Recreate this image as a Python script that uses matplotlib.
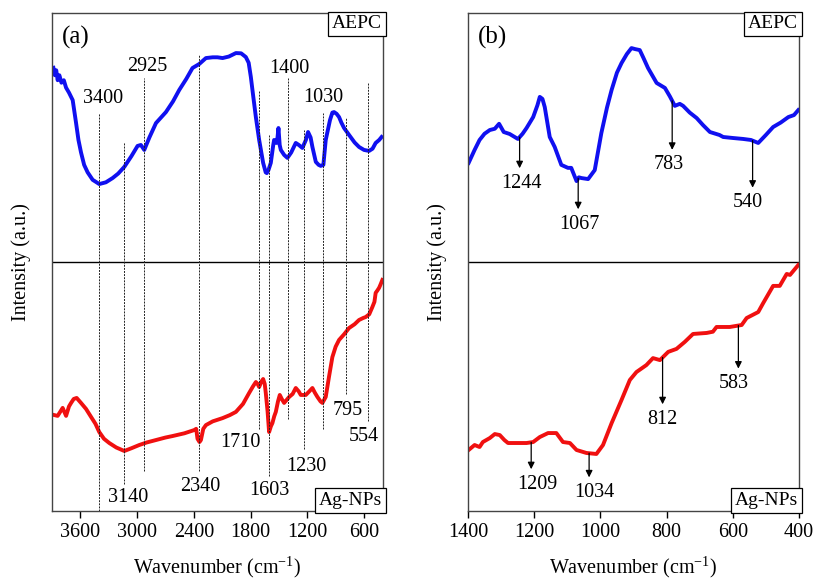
import numpy as np
import matplotlib.pyplot as plt

plt.rcParams['font.family'] = ['Liberation Serif', 'DejaVu Serif']
plt.rcParams['mathtext.fontset'] = 'custom'
plt.rcParams['mathtext.rm'] = 'Liberation Serif'
plt.rcParams['font.size'] = 14.5

# FTIR, full range: AEPC extract (upper trace)
wn_a_aepc = [3885, 3870, 3855, 3840, 3822, 3800, 3775, 3751, 3720, 3681, 3646, 3620, 3593, 3560,
             3523, 3470, 3400, 3330, 3259, 3200, 3135, 3060, 2995, 2960, 2924, 2870, 2800, 2695,
             2620, 2554, 2480, 2414, 2343, 2272, 2200, 2150, 2096, 2030, 1955, 1900, 1850, 1820,
             1797, 1770, 1744, 1709, 1667, 1640, 1628, 1610, 1586, 1560, 1551, 1526, 1515, 1505,
             1492, 1480, 1445, 1410, 1370, 1322, 1290, 1252, 1215, 1192, 1165, 1146, 1110, 1080,
             1058, 1030, 1005, 960, 935, 917, 890, 864, 840, 811, 758, 700, 653, 600, 547, 510,
             477, 440, 414]
int_a_aepc = [1.78, 1.75, 1.77, 1.73, 1.75, 1.72, 1.73, 1.70, 1.68, 1.65, 1.56, 1.49, 1.44, 1.39,
              1.36, 1.33, 1.313, 1.32, 1.337, 1.355, 1.382, 1.425, 1.466, 1.47, 1.45, 1.50, 1.558,
              1.602, 1.645, 1.691, 1.735, 1.779, 1.795, 1.819, 1.822, 1.822, 1.819, 1.825, 1.839,
              1.838, 1.823, 1.80, 1.743, 1.66, 1.582, 1.49, 1.398, 1.36, 1.357, 1.37, 1.398, 1.47,
              1.49, 1.478, 1.50, 1.538, 1.47, 1.45, 1.43, 1.418, 1.44, 1.478, 1.47, 1.458, 1.49,
              1.522, 1.50, 1.462, 1.402, 1.39, 1.386, 1.39, 1.49, 1.57, 1.60, 1.602, 1.595, 1.582,
              1.56, 1.538, 1.51, 1.48, 1.462, 1.45, 1.446, 1.455, 1.478, 1.49, 1.502]

# FTIR, full range: Ag nanoparticles (lower trace)
wn_a_ag = [3885, 3840, 3810, 3787, 3751, 3720, 3698, 3670, 3639, 3593, 3540, 3487, 3440, 3400,
           3350, 3294, 3220, 3135, 3060, 2977, 2900, 2800, 2700, 2625, 2500, 2396, 2375, 2361,
           2340, 2325, 2300, 2272, 2200, 2096, 2020, 1955, 1880, 1815, 1775, 1744, 1725, 1709,
           1685, 1667, 1650, 1639, 1620, 1604, 1585, 1569, 1550, 1533, 1510, 1491, 1470, 1445,
           1392, 1355, 1322, 1290, 1269, 1216, 1180, 1146, 1120, 1093, 1060, 1040, 1005, 970,
           935, 900, 864, 810, 758, 700, 653, 610, 582, 545, 512, 490, 477, 460, 441, 425, 406]
int_a_ag = [0.386, 0.382, 0.40, 0.414, 0.382, 0.42, 0.434, 0.45, 0.454, 0.434, 0.41, 0.378,
            0.35, 0.317, 0.29, 0.273, 0.255, 0.241, 0.252, 0.265, 0.275, 0.285, 0.295, 0.301,
            0.312, 0.325, 0.33, 0.29, 0.277, 0.285, 0.33, 0.345, 0.36, 0.373, 0.385, 0.398,
            0.43, 0.474, 0.50, 0.518, 0.51, 0.498, 0.52, 0.530, 0.51, 0.474, 0.40, 0.317, 0.34,
            0.353, 0.38, 0.398, 0.44, 0.466, 0.45, 0.434, 0.458, 0.47, 0.494, 0.48, 0.466,
            0.466, 0.48, 0.494, 0.475, 0.458, 0.44, 0.434, 0.458, 0.54, 0.618, 0.66, 0.687,
            0.71, 0.735, 0.75, 0.767, 0.775, 0.779, 0.79, 0.819, 0.84, 0.876, 0.885, 0.896,
            0.91, 0.928]

# FTIR, fingerprint region
wn_b_aepc = [1398, 1380, 1365, 1350, 1334, 1319, 1306, 1292, 1274, 1249, 1235, 1223, 1203, 1190,
             1183, 1175, 1168, 1153, 1138, 1118, 1098, 1088, 1072, 1065, 1057, 1037, 1017, 997,
             980, 966, 950, 936, 920, 906, 895, 881, 870, 856, 830, 805, 790, 775, 760, 750, 730,
             709, 690, 669, 640, 629, 600, 568, 545, 523, 500, 478, 455, 432, 415, 402]
int_b_aepc = [1.398, 1.45, 1.490, 1.515, 1.530, 1.535, 1.555, 1.522, 1.514, 1.494, 1.515, 1.538,
              1.582, 1.63, 1.663, 1.655, 1.622, 1.502, 1.462, 1.390, 1.378, 1.378, 1.325, 1.34,
              1.337, 1.333, 1.369, 1.518, 1.62, 1.691, 1.76, 1.799, 1.835, 1.859, 1.855, 1.851,
              1.82, 1.779, 1.719, 1.699, 1.665, 1.627, 1.635, 1.627, 1.60, 1.578, 1.55, 1.522,
              1.51, 1.502, 1.498, 1.494, 1.49, 1.478, 1.51, 1.542, 1.56, 1.582, 1.59, 1.610]
wn_b_ag = [1398, 1380, 1365, 1355, 1334, 1319, 1304, 1290, 1279, 1254, 1223, 1203, 1183, 1158,
           1133, 1113, 1092, 1072, 1042, 1012, 992, 966, 936, 911, 891, 861, 841, 820, 795, 770,
           745, 720, 679, 660, 649, 609, 573, 558, 523, 508, 478, 458, 437, 427, 402]
int_b_ag = [0.245, 0.265, 0.257, 0.277, 0.293, 0.309, 0.305, 0.285, 0.273, 0.273, 0.273, 0.277,
            0.297, 0.313, 0.313, 0.277, 0.273, 0.245, 0.233, 0.229, 0.265, 0.353, 0.446, 0.526,
            0.558, 0.586, 0.614, 0.606, 0.639, 0.651, 0.679, 0.711, 0.715, 0.72, 0.739, 0.739,
            0.747, 0.775, 0.799, 0.835, 0.904, 0.904, 0.952, 0.948, 0.988]

peaks_a = [3400, 3140, 2925, 2340, 1710, 1603, 1400, 1230, 1030, 795, 554]
peaks_b_aepc = [1244, 1067, 783, 540]
peaks_b_ag = [1209, 1034, 812, 583]

fig = plt.figure(figsize=(8.16, 5.82), dpi=100)
ax1 = fig.add_axes([0.0637, 0.122, 0.4056, 0.8557])
ax2 = fig.add_axes([0.5735, 0.122, 0.4056, 0.8557])

for ax in (ax1, ax2):
    ax.axhline(1, color='black', lw=1.0)
    ax.set_ylim(0, 2)
    ax.set_yticks([])
    ax.tick_params(axis='x', direction='out', length=5, width=1, pad=4)
    for s in ax.spines.values():
        s.set_color('#444444')
        s.set_linewidth(1.0)
    ax.set_xlabel('Wavenumber (cm$^{-1}$)', labelpad=8)
    ax.set_ylabel('Intensity (a.u.)', labelpad=15)
    ax.text(0.998, 0.995, 'AEPC', transform=ax.transAxes, ha='right', va='top', fontsize=14,
            bbox=dict(boxstyle='square,pad=0.2', fc='white', ec='black', lw=0.9))
    ax.text(0.998, 0.004, 'Ag-NPs', transform=ax.transAxes, ha='right', va='bottom', fontsize=14,
            bbox=dict(boxstyle='square,pad=0.2', fc='white', ec='black', lw=0.9))

# (a) full spectra with dashed guide lines
ax1.plot(wn_a_aepc, int_a_aepc, color='#1010f0', lw=2.8, solid_joinstyle='round')
ax1.plot(wn_a_ag, int_a_ag, color='#f01010', lw=2.8, solid_joinstyle='round')
ax1.set_xlim(3900, 400)
ax1.set_xticks([3600, 3000, 2400, 1800, 1200, 600])
ax1.text(0.03, 0.95, '(a)', transform=ax1.transAxes, ha='left', va='center', fontsize=18)

# guide line extents and label placement: (top, bottom, label dx, label y, ha)
guides = [(1.60, 0.00, 40, 1.655, 'center'),
          (1.48, 0.11, 45, 0.056, 'center'),
          (1.74, 0.16, 30, 1.784, 'center'),
          (1.83, 0.16, 10, 0.100, 'center'),
          (1.69, 0.33, 20, 0.274, 'right'),
          (1.51, 0.14, 0, 0.084, 'center'),
          (1.74, 0.37, 10, 1.778, 'center'),
          (1.53, 0.25, 25, 0.178, 'center'),
          (1.60, 0.33, 0, 1.661, 'center'),
          (1.58, 0.47, 25, 0.403, 'center'),
          (1.72, 0.36, -50, 0.298, 'center')]
for p, (top, bot, dx, ly, ha) in zip(peaks_a, guides):
    ax1.plot([p, p], [bot, top], color='#222222', lw=0.7, ls=(0, (2.0, 1.2)))
    ax1.text(p - dx, ly, str(p), ha=ha, va='center')

# (b) fingerprint region with arrows
ax2.plot(wn_b_aepc, int_b_aepc, color='#1010f0', lw=2.8, solid_joinstyle='round')
ax2.plot(wn_b_ag, int_b_ag, color='#f01010', lw=2.8, solid_joinstyle='round')
ax2.set_xlim(1400, 400)
ax2.set_xticks([1400, 1200, 1000, 800, 600, 400])
ax2.text(0.03, 0.95, '(b)', transform=ax2.transAxes, ha='left', va='center', fontsize=18)

arrow_len_aepc = [0.125, 0.124, 0.197, 0.189]
arrow_len_ag = [0.108, 0.097, 0.188, 0.173]
label_dx_aepc = [-5, -5, 11, 15]
label_dx_ag = [-20, -16, 0, 13]
for peaks, wn, val, lens, dxs in ((peaks_b_aepc, wn_b_aepc, int_b_aepc, arrow_len_aepc, label_dx_aepc),
                                  (peaks_b_ag, wn_b_ag, int_b_ag, arrow_len_ag, label_dx_ag)):
    for p, ln, dx in zip(peaks, lens, dxs):
        y0 = np.interp(p, wn[::-1], val[::-1])
        ax2.annotate('', xy=(p, y0 - ln), xytext=(p, y0),
                     arrowprops=dict(arrowstyle='-|>', color='black', lw=0.9,
                                     mutation_scale=10, shrinkA=0, shrinkB=0))
        ax2.text(p + dx, y0 - ln - 0.06, str(p), ha='center', va='center')

fig.savefig('out.png', dpi=100)
